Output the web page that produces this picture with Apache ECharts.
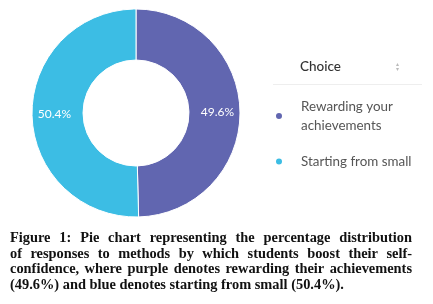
<!DOCTYPE html>
<html>
<head>
<meta charset="utf-8">
<script src="https://cdn.jsdelivr.net/npm/echarts@6/dist/echarts.min.js"></script>
<style>
  html, body { margin: 0; padding: 0; background: #fff; }
  #main { width: 433px; height: 304px; }
</style>
</head>
<body>
<div id="main"></div>
<script>
// data
var choiceNames = ['Rewarding your achievements', 'Starting from small'];
var choiceValues = [49.6, 50.4];
var choiceColors = ['#6166b0', '#3cbde4'];
var captionLines = [
  'Figure 1: Pie chart representing the percentage distribution',
  'of responses to methods by which students boost their self-',
  'confidence, where purple denotes rewarding their achievements',
  '(49.6%) and blue denotes starting from small (50.4%).'
];

var myChart = echarts.init(document.getElementById('main'));

// caption, justified like the printed figure
var capFont = 'bold 14.4px "Liberation Serif"';
var cv = document.createElement('canvas').getContext('2d');
cv.font = capFont;
var capLeft = 10, capRight = 412, capTop = 231, capLineH = 15.8;
var capItems = [];
captionLines.forEach(function (line, i) {
  var words = line.split(' ');
  var y = capTop + i * capLineH;
  var last = i === captionLines.length - 1;
  var total = 0;
  words.forEach(function (w) { total += cv.measureText(w).width; });
  var gap = last ? cv.measureText(' ').width : (capRight - capLeft - total) / (words.length - 1);
  var x = capLeft;
  words.forEach(function (w) {
    capItems.push({
      type: 'text', left: x, top: y,
      style: { text: w, font: capFont, fill: '#111' }
    });
    x += cv.measureText(w).width + gap;
  });
});

var option = {
  animation: false,
  legend: {
    orient: 'vertical',
    left: 269,
    top: 92,
    icon: 'circle',
    itemWidth: 8,
    itemHeight: 8,
    itemGap: 17,
    formatter: function (name) {
      return name === 'Rewarding your achievements' ? 'Rewarding your\nachievements' : name;
    },
    textStyle: { fontFamily: 'Lato', fontSize: 13.4, color: '#555', lineHeight: 19, padding: [0, 0, 0, 13] },
    data: choiceNames
  },
  graphic: [
    { type: 'text', left: 300, top: 60, style: { text: 'Choice', font: '500 13.5px Lato', fill: '#333' } },
    { type: 'text', left: 396, top: 61, style: { text: '▴\n▾', font: '6px "DejaVu Sans"', fill: '#bbb', lineHeight: 5 } },
    { type: 'line', shape: { x1: 273, y1: 84.5, x2: 422, y2: 84.5 }, style: { stroke: '#eee', lineWidth: 1 } }
  ].concat(capItems),
  series: [
    {
      name: 'Choice',
      type: 'pie',
      center: [136, 113],
      radius: [53, 104],
      startAngle: 90,
      clockwise: true,
      label: {
        position: 'inside',
        formatter: '{c}%',
        color: '#fff',
        fontFamily: 'Lato',
        fontSize: 12
      },
      labelLine: { show: false },
      itemStyle: { borderColor: '#fff', borderWidth: 1 },
      data: choiceNames.map(function (n, i) {
        return { name: n, value: choiceValues[i], itemStyle: { color: choiceColors[i] } };
      })
    }
  ]
};

myChart.setOption(option);
</script>
</body>
</html>
